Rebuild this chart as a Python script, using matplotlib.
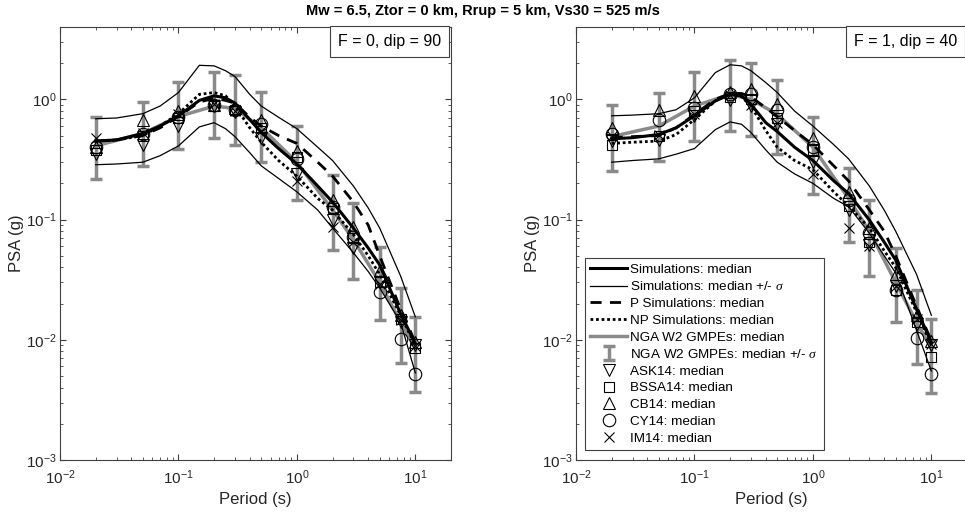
import numpy as np
import matplotlib
matplotlib.use("Agg")
import matplotlib.pyplot as plt
from matplotlib.ticker import LogLocator, NullFormatter

plt.rcParams['font.family'] = ['Liberation Sans', 'DejaVu Sans']
plt.rcParams['mathtext.fontset'] = 'custom'
plt.rcParams['mathtext.rm'] = 'Liberation Sans'
plt.rcParams['mathtext.it'] = 'Liberation Serif:italic'

# periods where the GMPEs are evaluated
periods = [0.02, 0.05, 0.1, 0.2, 0.3, 0.5, 1, 2, 3, 5, 7.5, 10]
# denser periods for the simulation curves
sim_periods = [0.02, 0.03, 0.05, 0.07, 0.1, 0.15, 0.2, 0.25, 0.3, 0.4, 0.5, 0.7, 1, 1.5, 2, 3, 4, 5, 7.5, 10]

# ---- left panel: F = 0, dip = 90
sim_med_0 = [0.45, 0.46, 0.52, 0.60, 0.73, 0.98, 1.07, 1.03, 0.93, 0.68, 0.53, 0.39, 0.29, 0.19, 0.14, 0.085, 0.058, 0.042, 0.0165, 0.0093]
sim_hi_0 = [0.69, 0.70, 0.76, 0.88, 1.14, 1.92, 1.90, 1.73, 1.55, 1.10, 0.88, 0.71, 0.57, 0.40, 0.31, 0.19, 0.125, 0.085, 0.034, 0.0155]
sim_lo_0 = [0.286, 0.29, 0.30, 0.34, 0.41, 0.59, 0.64, 0.57, 0.49, 0.36, 0.28, 0.22, 0.17, 0.12, 0.085, 0.053, 0.037, 0.027, 0.014, 0.0053]
p_med_0 = [0.45, 0.46, 0.50, 0.58, 0.72, 0.95, 1.02, 0.98, 0.93, 0.71, 0.60, 0.50, 0.43, 0.30, 0.23, 0.14, 0.09, 0.05, 0.018, 0.0095]
np_med_0 = [0.45, 0.46, 0.50, 0.60, 0.76, 1.10, 1.14, 1.07, 0.88, 0.58, 0.44, 0.31, 0.23, 0.15, 0.12, 0.075, 0.05, 0.035, 0.016, 0.009]
gmpe_med_0 = [0.41, 0.52, 0.72, 0.88, 0.84, 0.58, 0.30, 0.12, 0.068, 0.030, 0.014, 0.0085]
gmpe_lo_0 = [0.217, 0.28, 0.39, 0.48, 0.42, 0.30, 0.146, 0.056, 0.032, 0.0145, 0.0064, 0.0037]
gmpe_hi_0 = [0.72, 0.95, 1.40, 1.70, 1.59, 1.16, 0.60, 0.236, 0.137, 0.059, 0.027, 0.0154]
ask_0 = [0.35, 0.42, 0.60, 0.88, 0.78, 0.48, 0.24, 0.099, 0.058, 0.030, 0.014, 0.009]
bssa_0 = [0.38, 0.50, 0.70, 0.88, 0.82, 0.58, 0.33, 0.125, 0.070, 0.030, 0.015, 0.0085]
cb_0 = [0.40, 0.68, 0.80, 0.90, 0.85, 0.68, 0.37, 0.146, 0.087, 0.038, 0.016, 0.0095]
cy_0 = [0.40, 0.52, 0.72, 0.90, 0.82, 0.62, 0.32, 0.128, 0.072, 0.025, 0.0102, 0.0052]
im_0 = [0.48, 0.53, 0.75, 0.92, 0.80, 0.55, 0.21, 0.087, 0.065, 0.029, 0.0145, 0.0088]

# ---- right panel: F = 1, dip = 40
sim_med_1 = [0.47, 0.48, 0.51, 0.58, 0.73, 0.97, 1.10, 1.07, 0.91, 0.64, 0.54, 0.40, 0.31, 0.21, 0.165, 0.099, 0.065, 0.046, 0.018, 0.0095]
sim_hi_1 = [0.73, 0.74, 0.76, 0.82, 1.03, 1.67, 1.94, 1.90, 1.73, 1.38, 1.14, 0.80, 0.60, 0.42, 0.32, 0.19, 0.12, 0.08, 0.035, 0.016]
sim_lo_1 = [0.30, 0.31, 0.32, 0.35, 0.39, 0.56, 0.65, 0.62, 0.53, 0.38, 0.30, 0.24, 0.20, 0.15, 0.128, 0.077, 0.05, 0.036, 0.012, 0.0055]
p_med_1 = [0.48, 0.49, 0.50, 0.58, 0.75, 1.00, 1.12, 1.12, 1.05, 0.85, 0.72, 0.55, 0.42, 0.28, 0.21, 0.12, 0.08, 0.05, 0.019, 0.0098]
np_med_1 = [0.43, 0.44, 0.45, 0.51, 0.68, 0.97, 1.12, 1.05, 0.88, 0.55, 0.40, 0.31, 0.26, 0.17, 0.13, 0.085, 0.055, 0.04, 0.017, 0.009]
gmpe_med_1 = [0.49, 0.60, 0.88, 1.10, 1.00, 0.75, 0.40, 0.15, 0.080, 0.030, 0.014, 0.0085]
gmpe_lo_1 = [0.256, 0.31, 0.45, 0.55, 0.50, 0.35, 0.164, 0.065, 0.034, 0.014, 0.0063, 0.0036]
gmpe_hi_1 = [0.89, 1.14, 1.70, 2.13, 2.00, 1.45, 0.71, 0.27, 0.146, 0.058, 0.026, 0.015]
ask_1 = [0.45, 0.46, 0.73, 0.98, 0.88, 0.62, 0.30, 0.12, 0.062, 0.028, 0.0135, 0.009]
bssa_1 = [0.42, 0.50, 0.80, 1.05, 1.00, 0.70, 0.38, 0.13, 0.065, 0.026, 0.014, 0.0072]
cb_1 = [0.58, 0.82, 1.07, 1.15, 1.21, 0.91, 0.48, 0.17, 0.085, 0.035, 0.016, 0.0098]
cy_1 = [0.52, 0.68, 0.84, 1.10, 1.10, 0.81, 0.40, 0.145, 0.078, 0.026, 0.0103, 0.0052]
im_1 = [0.50, 0.51, 0.75, 1.08, 0.90, 0.64, 0.24, 0.085, 0.060, 0.028, 0.015, 0.0092]

panels = [
    dict(label="F = 0, dip = 90", med=sim_med_0, hi=sim_hi_0, lo=sim_lo_0, p=p_med_0, np_=np_med_0,
         gm=gmpe_med_0, glo=gmpe_lo_0, ghi=gmpe_hi_0, ask=ask_0, bssa=bssa_0, cb=cb_0, cy=cy_0, im=im_0),
    dict(label="F = 1, dip = 40", med=sim_med_1, hi=sim_hi_1, lo=sim_lo_1, p=p_med_1, np_=np_med_1,
         gm=gmpe_med_1, glo=gmpe_lo_1, ghi=gmpe_hi_1, ask=ask_1, bssa=bssa_1, cb=cb_1, cy=cy_1, im=im_1),
]

grey = '#8a8a8a'
axcol = '#404040'

fig = plt.figure(figsize=(9.65, 5.14), dpi=100)
ax_l = fig.add_axes([60 / 965, 54 / 514, 391 / 965, 433 / 514])
ax_r = fig.add_axes([576 / 965, 54 / 514, 391 / 965, 433 / 514])

for ax, d in zip([ax_l, ax_r], panels):
    T = np.array(periods)
    g = np.array(d['gm'])
    h_med, = ax.plot(sim_periods, d['med'], color='k', lw=2.2, zorder=4)
    h_sig, = ax.plot(sim_periods, d['hi'], color='k', lw=0.9, zorder=4)
    ax.plot(sim_periods, d['lo'], color='k', lw=0.9, zorder=4)
    h_p, = ax.plot(sim_periods, d['p'], color='k', lw=2.0, ls=(0, (4, 3)), zorder=4)
    h_np, = ax.plot(sim_periods, d['np_'], color='k', lw=2.0, ls=(0, (1, 1)), zorder=4)
    h_gm, = ax.plot(T, g, color=grey, lw=2.5, zorder=3)
    h_err = ax.errorbar(T, g, yerr=[g - np.array(d['glo']), np.array(d['ghi']) - g], fmt='none',
                        ecolor=grey, elinewidth=2.5, capsize=4, capthick=2.5, zorder=3)
    mk = dict(ls='none', mfc='none', mec='k', ms=9, mew=0.8, zorder=5)
    h_ask, = ax.plot(T, d['ask'], marker='v', **mk)
    h_bssa, = ax.plot(T, d['bssa'], marker='s', **dict(mk, ms=7.5))
    h_cb, = ax.plot(T, d['cb'], marker='^', **mk)
    h_cy, = ax.plot(T, d['cy'], marker='o', **mk)
    h_im, = ax.plot(T, d['im'], marker='x', **dict(mk, ms=7.5))

    ax.set_xscale('log')
    ax.set_yscale('log')
    ax.set_xlim(0.01, 20)
    ax.set_ylim(1e-3, 4)
    ax.xaxis.set_major_locator(LogLocator(base=10, numticks=10))
    ax.yaxis.set_major_locator(LogLocator(base=10, numticks=10))
    ax.xaxis.set_minor_locator(LogLocator(base=10, subs=np.arange(2, 10), numticks=20))
    ax.yaxis.set_minor_locator(LogLocator(base=10, subs=np.arange(2, 10), numticks=20))
    ax.xaxis.set_minor_formatter(NullFormatter())
    ax.yaxis.set_minor_formatter(NullFormatter())
    ax.tick_params(which='both', direction='in', top=True, right=True, colors=axcol,
                   labelcolor='#262626', labelsize=11)
    ax.tick_params(axis='x', which='major', pad=6)
    ax.tick_params(axis='y', which='major', pad=2.5)
    ax.tick_params(which='major', length=4, width=0.8)
    ax.tick_params(which='minor', length=2.5, width=0.6)
    for s in ax.spines.values():
        s.set_color(axcol)
        s.set_linewidth(0.8)
    ax.set_xlabel('Period (s)', fontsize=12, color='#262626')
    ax.set_ylabel('PSA (g)', fontsize=12, color='#262626')
    ax.yaxis.set_label_coords(-36 / 391, 0.5)
    ax.text(0.975, 0.983, d['label'], transform=ax.transAxes, ha='right', va='top', fontsize=11.5,
            bbox=dict(boxstyle='square,pad=0.5', fc='white', ec=axcol, lw=0.8), zorder=6)

# the right panel runs past the edge of the figure
ax_r.spines['right'].set_visible(False)
ax_r.tick_params(which='both', right=False)

handles = [h_med, h_sig, h_p, h_np, h_gm, h_err, h_ask, h_bssa, h_cb, h_cy, h_im]
labels = ['Simulations: median', r'Simulations: median +/- $\mathit{\sigma}$', 'P Simulations: median',
          'NP Simulations: median', 'NGA W2 GMPEs: median', r'NGA W2 GMPEs: median +/- $\mathit{\sigma}$',
          'ASK14: median', 'BSSA14: median', 'CB14: median', 'CY14: median', 'IM14: median']
leg = ax_r.legend(handles, labels, loc='lower left', bbox_to_anchor=(0.023, 0.023), borderaxespad=0,
                  fontsize=9.7, handlelength=2.75, handletextpad=0.2, labelspacing=0.32,
                  fancybox=False, framealpha=1, edgecolor=axcol, borderpad=0.4)
leg.get_frame().set_linewidth(0.8)

fig.suptitle('Mw = 6.5, Ztor = 0 km, Rrup = 5 km, Vs30 = 525 m/s', fontsize=10.5, fontweight='bold',
             y=1 - 4 / 514, va='top')

fig.savefig('out.png', dpi=100)
